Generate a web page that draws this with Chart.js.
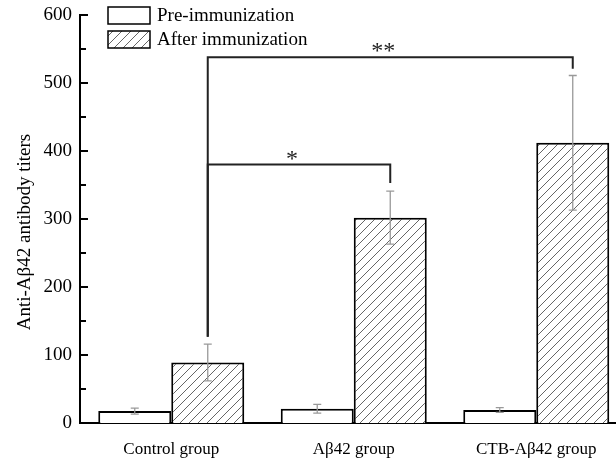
<!DOCTYPE html>
<html>
<head>
<meta charset="utf-8">
<script src="https://cdn.jsdelivr.net/npm/chart.js@4.4.0/dist/chart.umd.min.js"></script>
<style>
  html, body { margin: 0; padding: 0; overflow: hidden; background: #fff; }
  #wrap { width: 640px; height: 459px; }
</style>
</head>
<body>
<div id="wrap"><canvas id="myChart" width="640" height="459"></canvas></div>
<script>
const categories = ['Control group', 'A\u03b242 group', 'CTB-A\u03b242 group'];
const preValues = [17.5, 21, 19];
const preErrors = [4.5, 6.5, 3.5];
const afterValues = [89, 302, 412];
const afterErrors = [27, 39, 99];
const yTicks = [0, 100, 200, 300, 400, 500, 600];
const yTitle = 'Anti-A\u03b242 antibody titers';

// significance brackets: from group index to group index, bar top level, drop level, label
const bracketFrom = [0, 0];
const bracketTo = [1, 2];
const bracketLevel = [380, 538];
const bracketDrop = [353, 521];
const bracketStart = [127, 127];
const bracketLabel = ['*', '**'];

const serif = '"Liberation Serif", "Times New Roman", serif';

// hatch pattern for after-immunization bars
function makeHatch() {
  const c = document.createElement('canvas');
  c.width = 9; c.height = 9;
  const g = c.getContext('2d');
  g.fillStyle = '#fff';
  g.fillRect(0, 0, 9, 9);
  g.strokeStyle = '#555';
  g.lineWidth = 0.9;
  g.beginPath();
  g.moveTo(0, 9); g.lineTo(9, 0);
  g.moveTo(-1, 1); g.lineTo(1, -1);
  g.moveTo(8, 10); g.lineTo(10, 8);
  g.stroke();
  return g.createPattern(c, 'repeat');
}
const hatch = makeHatch();

const extras = {
  id: 'extras',
  afterDatasetsDraw(chart) {
    const ctx = chart.ctx;
    const y = chart.scales.y;
    const area = chart.chartArea;

    // minor/major y ticks pointing inward
    ctx.save();
    ctx.strokeStyle = '#000';
    ctx.lineWidth = 2;
    for (let v = 0; v <= 600; v += 50) {
      const py = Math.round(y.getPixelForValue(v));
      const len = v % 100 === 0 ? 8 : 6;
      ctx.beginPath();
      ctx.moveTo(area.left, py);
      ctx.lineTo(area.left + len, py);
      ctx.stroke();
    }
    ctx.restore();

    // y title (sits a bit below the plot centre in the original)
    ctx.save();
    ctx.translate(25, 232);
    ctx.rotate(-Math.PI / 2);
    ctx.font = '19px ' + serif;
    ctx.fillStyle = '#000';
    ctx.textAlign = 'center';
    ctx.textBaseline = 'middle';
    ctx.fillText(yTitle, 0, 0);
    ctx.restore();

    // error bars
    const errs = [preErrors, afterErrors];
    const vals = [preValues, afterValues];
    ctx.save();
    ctx.strokeStyle = '#999';
    ctx.lineWidth = 1.3;
    errs.forEach((e, di) => {
      chart.getDatasetMeta(di).data.forEach((bar, i) => {
        const top = y.getPixelForValue(vals[di][i] + e[i]);
        const bot = y.getPixelForValue(vals[di][i] - e[i]);
        ctx.beginPath();
        ctx.moveTo(bar.x, top); ctx.lineTo(bar.x, bot);
        ctx.moveTo(bar.x - 4, top); ctx.lineTo(bar.x + 4, top);
        ctx.moveTo(bar.x - 4, bot); ctx.lineTo(bar.x + 4, bot);
        ctx.stroke();
      });
    });
    ctx.restore();

    // brackets
    const after = chart.getDatasetMeta(1).data;
    ctx.save();
    ctx.strokeStyle = '#222';
    ctx.lineWidth = 2;
    ctx.fillStyle = '#222';
    ctx.font = '24px ' + serif;
    ctx.textAlign = 'center';
    ctx.textBaseline = 'middle';
    bracketLabel.forEach((lab, k) => {
      const x1 = after[bracketFrom[k]].x;
      const x2 = after[bracketTo[k]].x;
      const ly = y.getPixelForValue(bracketLevel[k]);
      ctx.beginPath();
      ctx.moveTo(x1, y.getPixelForValue(bracketStart[k]));
      ctx.lineTo(x1, ly);
      ctx.lineTo(x2, ly);
      ctx.lineTo(x2, y.getPixelForValue(bracketDrop[k]));
      ctx.stroke();
      ctx.fillText(lab, (x1 + x2) / 2 - 7, ly - 5);
    });
    ctx.restore();

    // legend
    ctx.save();
    ctx.font = '19px ' + serif;
    ctx.textBaseline = 'middle';
    ctx.textAlign = 'left';
    chart.data.datasets.forEach((ds, i) => {
      const bx = 108, by = 7 + i * 24;
      ctx.fillStyle = ds.backgroundColor;
      ctx.fillRect(bx, by, 42, 17);
      ctx.strokeStyle = '#000';
      ctx.lineWidth = 1.5;
      ctx.strokeRect(bx, by, 42, 17);
      ctx.fillStyle = '#000';
      ctx.fillText(ds.label, 157, by + 9);
    });
    ctx.restore();
  }
};

new Chart(document.getElementById('myChart'), {
  type: 'bar',
  data: {
    labels: categories,
    datasets: [
      {
        label: 'Pre-immunization',
        data: preValues,
        backgroundColor: '#fff',
        borderColor: '#000',
        borderWidth: 2,
        categoryPercentage: 0.8,
        barPercentage: 1
      },
      {
        label: 'After immunization',
        data: afterValues,
        backgroundColor: hatch,
        borderColor: '#000',
        borderWidth: 2,
        categoryPercentage: 0.8,
        barPercentage: 1
      }
    ]
  },
  options: {
    responsive: false,
    animation: false,
    layout: { padding: { top: 15, right: 12.5, bottom: 0, left: 0 } },
    plugins: { legend: { display: false }, tooltip: { enabled: false } },
    scales: {
      x: {
        grid: { display: false },
        border: { display: true, color: '#000', width: 2 },
        ticks: { color: '#000', font: { family: serif, size: 17 }, padding: 8 },
        afterFit(scale) { scale.height = 36; }
      },
      y: {
        min: 0,
        max: 600,
        afterBuildTicks(scale) { scale.ticks = yTicks.map(v => ({ value: v })); },
        grid: { display: false },
        border: { display: true, color: '#000', width: 2 },
        ticks: { color: '#000', font: { family: serif, size: 19 }, padding: 0 },
        afterFit(scale) { scale.width = 80; }
      }
    }
  },
  plugins: [extras]
});
</script>
</body>
</html>
